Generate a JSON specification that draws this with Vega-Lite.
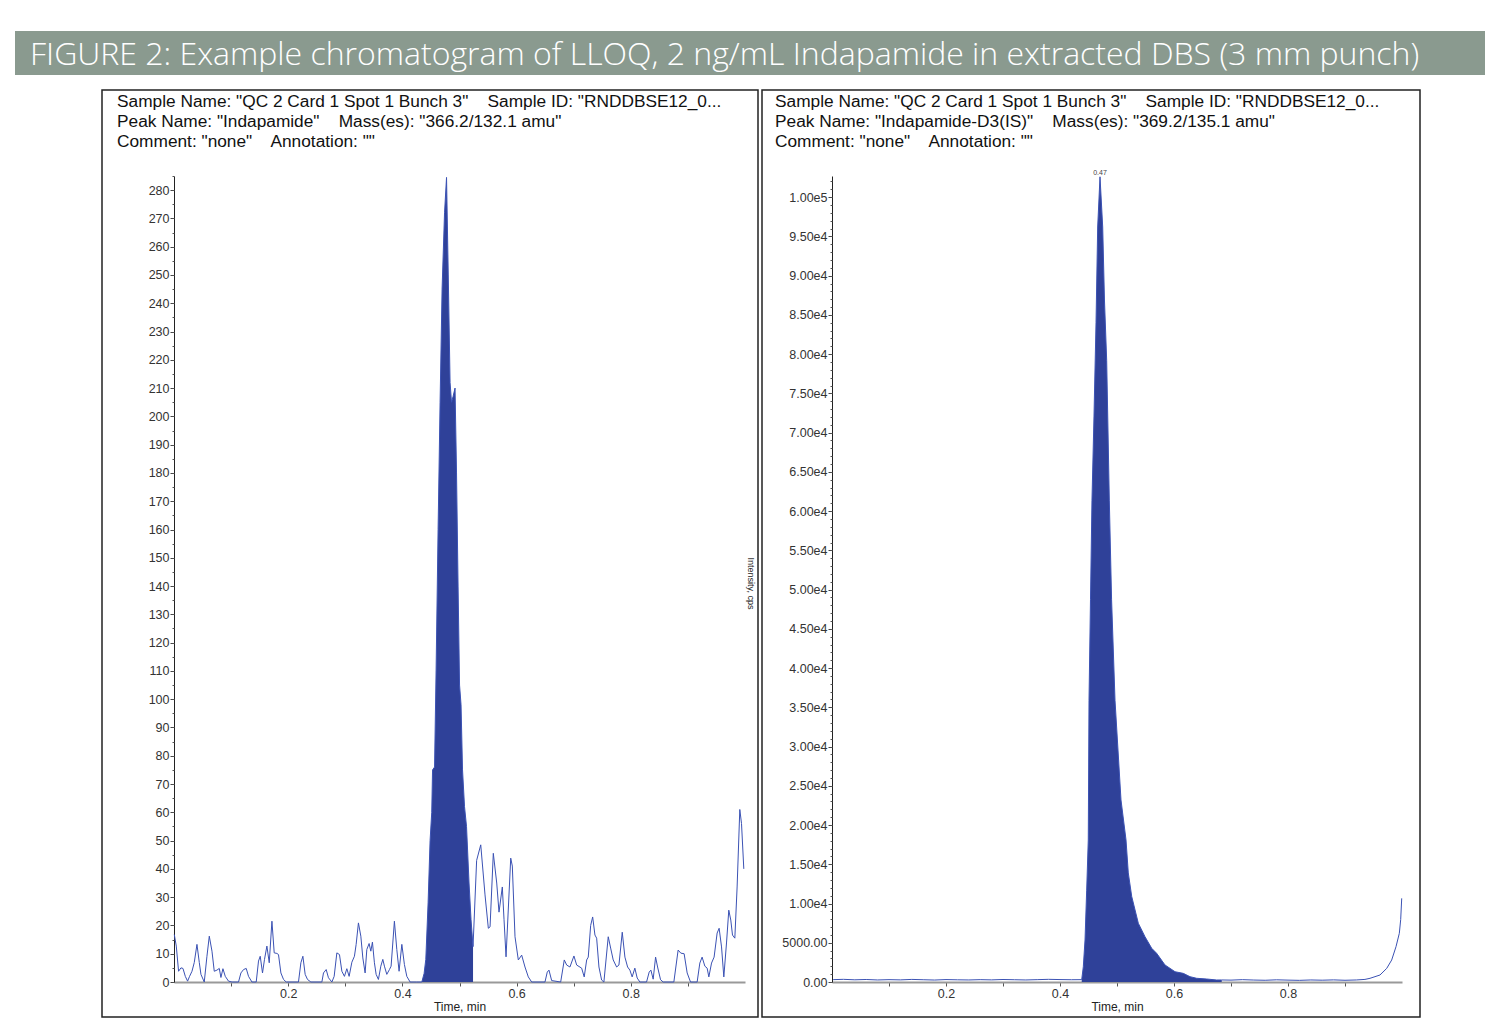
{
  "$schema": "https://vega.github.io/schema/vega-lite/v6.json",
  "background": "white",
  "padding": {"left": 15, "top": 31, "right": 0, "bottom": 0},
  "bounds": "flush",
  "spacing": 15,
  "config": {
    "view": {"stroke": null},
    "font": "Liberation Sans",
    "axis": {"grid": false, "labelFont": "Liberation Sans", "titleFont": "Liberation Sans"}
  },
  "datasets": {
    "indapamide": [
      {"t": 0.0005, "v": 16.8, "s": "n"}, {"t": 0.004, "v": 12.7, "s": "n"}, {"t": 0.008, "v": 3.8, "s": "n"}, {"t": 0.0122, "v": 5, "s": "n"},
      {"t": 0.0157, "v": 4.8, "s": "n"}, {"t": 0.0198, "v": 2, "s": "n"}, {"t": 0.0238, "v": 0.3, "s": "n"}, {"t": 0.0273, "v": 2, "s": "n"},
      {"t": 0.0315, "v": 3.8, "s": "n"}, {"t": 0.0355, "v": 6.9, "s": "n"}, {"t": 0.0402, "v": 13.3, "s": "n"}, {"t": 0.0443, "v": 6.9, "s": "n"},
      {"t": 0.0472, "v": 2.7, "s": "n"}, {"t": 0.053, "v": 0, "s": "n"}, {"t": 0.0577, "v": 9.1, "s": "n"}, {"t": 0.0618, "v": 16.2, "s": "n"},
      {"t": 0.0665, "v": 10.9, "s": "n"}, {"t": 0.0705, "v": 3.8, "s": "n"}, {"t": 0.0752, "v": 4.2, "s": "n"}, {"t": 0.0793, "v": 4.8, "s": "n"},
      {"t": 0.0822, "v": 1.6, "s": "n"}, {"t": 0.0857, "v": 4.7, "s": "n"}, {"t": 0.0898, "v": 2, "s": "n"}, {"t": 0.0955, "v": 0.3, "s": "n"},
      {"t": 0.1015, "v": 0, "s": "n"}, {"t": 0.113, "v": 0, "s": "n"}, {"t": 0.1172, "v": 3.2, "s": "n"}, {"t": 0.1218, "v": 4.4, "s": "n"},
      {"t": 0.1265, "v": 4.8, "s": "n"}, {"t": 0.1305, "v": 2, "s": "n"}, {"t": 0.1365, "v": 0, "s": "n"}, {"t": 0.144, "v": 0, "s": "n"},
      {"t": 0.148, "v": 7.4, "s": "n"}, {"t": 0.151, "v": 9.1, "s": "n"}, {"t": 0.155, "v": 3.2, "s": "n"}, {"t": 0.1585, "v": 8, "s": "n"},
      {"t": 0.1627, "v": 12.7, "s": "n"}, {"t": 0.1668, "v": 6.8, "s": "n"}, {"t": 0.1715, "v": 21.5, "s": "n"}, {"t": 0.1755, "v": 10.3, "s": "n"},
      {"t": 0.1802, "v": 10.1, "s": "n"}, {"t": 0.183, "v": 9.7, "s": "n"}, {"t": 0.1872, "v": 3.2, "s": "n"}, {"t": 0.1918, "v": 0.9, "s": "n"},
      {"t": 0.1965, "v": 0, "s": "n"}, {"t": 0.218, "v": 0, "s": "n"}, {"t": 0.2222, "v": 6.8, "s": "n"}, {"t": 0.2257, "v": 9.1, "s": "n"},
      {"t": 0.2297, "v": 2.7, "s": "n"}, {"t": 0.2338, "v": 0.9, "s": "n"}, {"t": 0.2397, "v": 0, "s": "n"}, {"t": 0.259, "v": 0, "s": "n"},
      {"t": 0.2618, "v": 3.2, "s": "n"}, {"t": 0.2665, "v": 4.4, "s": "n"}, {"t": 0.2705, "v": 1.5, "s": "n"}, {"t": 0.2765, "v": 0, "s": "n"},
      {"t": 0.2805, "v": 2, "s": "n"}, {"t": 0.2852, "v": 10.3, "s": "n"}, {"t": 0.2898, "v": 9.7, "s": "n"}, {"t": 0.294, "v": 3.8, "s": "n"},
      {"t": 0.2985, "v": 2, "s": "n"}, {"t": 0.3027, "v": 4.7, "s": "n"}, {"t": 0.3067, "v": 2, "s": "n"}, {"t": 0.3115, "v": 7, "s": "n"},
      {"t": 0.316, "v": 9.1, "s": "n"}, {"t": 0.319, "v": 13.3, "s": "n"}, {"t": 0.323, "v": 20.9, "s": "n"}, {"t": 0.3272, "v": 16.2, "s": "n"},
      {"t": 0.3307, "v": 8.5, "s": "n"}, {"t": 0.3347, "v": 3.2, "s": "n"}, {"t": 0.3377, "v": 11.5, "s": "n"}, {"t": 0.3417, "v": 13.6, "s": "n"},
      {"t": 0.3447, "v": 10.9, "s": "n"}, {"t": 0.3475, "v": 14.1, "s": "n"}, {"t": 0.351, "v": 6.8, "s": "n"}, {"t": 0.354, "v": 2.7, "s": "n"},
      {"t": 0.358, "v": 0.9, "s": "n"}, {"t": 0.3622, "v": 5.6, "s": "n"}, {"t": 0.3657, "v": 8, "s": "n"}, {"t": 0.3685, "v": 5.6, "s": "n"},
      {"t": 0.3727, "v": 2.7, "s": "n"}, {"t": 0.3773, "v": 4.4, "s": "n"}, {"t": 0.3802, "v": 5.6, "s": "n"}, {"t": 0.386, "v": 21.5, "s": "n"},
      {"t": 0.3902, "v": 11.5, "s": "n"}, {"t": 0.3942, "v": 3.8, "s": "n"}, {"t": 0.399, "v": 13.3, "s": "n"}, {"t": 0.4035, "v": 6.2, "s": "n"},
      {"t": 0.4077, "v": 2, "s": "n"}, {"t": 0.4135, "v": 0, "s": "n"}, {"t": 0.4252, "v": 0, "s": "n"},
      {"t": 0.434, "v": 0, "s": "p"}, {"t": 0.438, "v": 3, "s": "p"}, {"t": 0.441, "v": 8, "s": "p"}, {"t": 0.445, "v": 28, "s": "p"},
      {"t": 0.4485, "v": 50, "s": "p"}, {"t": 0.4514, "v": 60, "s": "p"}, {"t": 0.4528, "v": 75, "s": "p"}, {"t": 0.4563, "v": 76, "s": "p"},
      {"t": 0.459, "v": 110, "s": "p"}, {"t": 0.4625, "v": 160, "s": "p"}, {"t": 0.466, "v": 205, "s": "p"}, {"t": 0.4695, "v": 245, "s": "p"},
      {"t": 0.4738, "v": 272, "s": "p"}, {"t": 0.4773, "v": 284.5, "s": "p"}, {"t": 0.4803, "v": 250, "s": "p"}, {"t": 0.4835, "v": 212, "s": "p"},
      {"t": 0.486, "v": 205, "s": "p"}, {"t": 0.4887, "v": 207, "s": "p"}, {"t": 0.4922, "v": 210, "s": "p"}, {"t": 0.4948, "v": 180, "s": "p"},
      {"t": 0.4975, "v": 140, "s": "p"}, {"t": 0.5001, "v": 105, "s": "p"}, {"t": 0.5027, "v": 98, "s": "p"}, {"t": 0.5053, "v": 75, "s": "p"},
      {"t": 0.5088, "v": 62, "s": "p"}, {"t": 0.5123, "v": 55, "s": "p"}, {"t": 0.5167, "v": 35, "s": "p"}, {"t": 0.5202, "v": 22, "s": "p"},
      {"t": 0.5237, "v": 12.5, "s": "p"},
      {"t": 0.53, "v": 43, "s": "n"}, {"t": 0.5372, "v": 48.5, "s": "n"}, {"t": 0.5447, "v": 30.8, "s": "n"}, {"t": 0.5505, "v": 19, "s": "n"},
      {"t": 0.5535, "v": 19.5, "s": "n"}, {"t": 0.5592, "v": 45.5, "s": "n"}, {"t": 0.5652, "v": 35, "s": "n"}, {"t": 0.5692, "v": 24.7, "s": "n"},
      {"t": 0.575, "v": 33.6, "s": "n"}, {"t": 0.578, "v": 22, "s": "n"}, {"t": 0.5815, "v": 8.9, "s": "n"}, {"t": 0.5897, "v": 43.8, "s": "n"},
      {"t": 0.5925, "v": 41, "s": "n"}, {"t": 0.5972, "v": 16, "s": "n"}, {"t": 0.603, "v": 7.8, "s": "n"}, {"t": 0.6089, "v": 9.5, "s": "n"},
      {"t": 0.6147, "v": 5.3, "s": "n"}, {"t": 0.6205, "v": 1.8, "s": "n"}, {"t": 0.6264, "v": 0, "s": "n"}, {"t": 0.6497, "v": 0, "s": "n"},
      {"t": 0.6537, "v": 3.5, "s": "n"}, {"t": 0.6567, "v": 4.2, "s": "n"}, {"t": 0.6614, "v": 0.5, "s": "n"}, {"t": 0.6772, "v": 0, "s": "n"},
      {"t": 0.6835, "v": 7.8, "s": "n"}, {"t": 0.6877, "v": 6, "s": "n"}, {"t": 0.6934, "v": 5.3, "s": "n"}, {"t": 0.7004, "v": 9.2, "s": "n"},
      {"t": 0.7052, "v": 6, "s": "n"}, {"t": 0.7139, "v": 4.9, "s": "n"}, {"t": 0.7184, "v": 1.8, "s": "n"}, {"t": 0.7227, "v": 7.8, "s": "n"},
      {"t": 0.7255, "v": 8.8, "s": "n"}, {"t": 0.7297, "v": 20, "s": "n"}, {"t": 0.7332, "v": 23, "s": "n"}, {"t": 0.7372, "v": 16.6, "s": "n"},
      {"t": 0.7402, "v": 15.5, "s": "n"}, {"t": 0.7442, "v": 5.3, "s": "n"}, {"t": 0.7489, "v": 0.7, "s": "n"}, {"t": 0.7529, "v": 0, "s": "n"},
      {"t": 0.7605, "v": 16, "s": "n"}, {"t": 0.7647, "v": 12, "s": "n"}, {"t": 0.7692, "v": 7.8, "s": "n"}, {"t": 0.7752, "v": 5.3, "s": "n"},
      {"t": 0.7792, "v": 6, "s": "n"}, {"t": 0.785, "v": 17.6, "s": "n"}, {"t": 0.7897, "v": 8.8, "s": "n"}, {"t": 0.7944, "v": 5.3, "s": "n"},
      {"t": 0.7984, "v": 4.2, "s": "n"}, {"t": 0.8024, "v": 1.8, "s": "n"}, {"t": 0.8071, "v": 4.9, "s": "n"}, {"t": 0.8112, "v": 1.4, "s": "n"},
      {"t": 0.8159, "v": 0, "s": "n"}, {"t": 0.8276, "v": 0, "s": "n"}, {"t": 0.8322, "v": 3.5, "s": "n"}, {"t": 0.8352, "v": 4.2, "s": "n"},
      {"t": 0.8392, "v": 1, "s": "n"}, {"t": 0.8434, "v": 8.8, "s": "n"}, {"t": 0.8469, "v": 5.3, "s": "n"}, {"t": 0.8521, "v": 0.8, "s": "n"},
      {"t": 0.8567, "v": 0, "s": "n"}, {"t": 0.8754, "v": 0, "s": "n"}, {"t": 0.8829, "v": 11.3, "s": "n"}, {"t": 0.8876, "v": 10.2, "s": "n"},
      {"t": 0.8934, "v": 10, "s": "n"}, {"t": 0.8987, "v": 3.2, "s": "n"}, {"t": 0.9046, "v": 0, "s": "n"}, {"t": 0.9162, "v": 0, "s": "n"},
      {"t": 0.9209, "v": 6.7, "s": "n"}, {"t": 0.9249, "v": 8.8, "s": "n"}, {"t": 0.9297, "v": 5.6, "s": "n"}, {"t": 0.9337, "v": 4.9, "s": "n"},
      {"t": 0.9367, "v": 1.8, "s": "n"}, {"t": 0.9414, "v": 6.7, "s": "n"}, {"t": 0.9459, "v": 8.8, "s": "n"}, {"t": 0.9512, "v": 17.3, "s": "n"},
      {"t": 0.9547, "v": 19, "s": "n"}, {"t": 0.9589, "v": 12.4, "s": "n"}, {"t": 0.9629, "v": 1.8, "s": "n"}, {"t": 0.9676, "v": 13.8, "s": "n"},
      {"t": 0.9716, "v": 25.4, "s": "n"}, {"t": 0.9751, "v": 21.9, "s": "n"}, {"t": 0.9781, "v": 16.6, "s": "n"}, {"t": 0.9822, "v": 15.5, "s": "n"},
      {"t": 0.9862, "v": 33.6, "s": "n"}, {"t": 0.9909, "v": 61, "s": "n"}, {"t": 0.9939, "v": 56, "s": "n"}, {"t": 0.9979, "v": 40, "s": "n"}
    ],
    "internalStd": [
      {"t": 0.002, "v": 300, "s": "n"}, {"t": 0.02, "v": 340, "s": "n"}, {"t": 0.04, "v": 280, "s": "n"}, {"t": 0.06, "v": 320, "s": "n"},
      {"t": 0.08, "v": 260, "s": "n"}, {"t": 0.1, "v": 300, "s": "n"}, {"t": 0.12, "v": 270, "s": "n"}, {"t": 0.14, "v": 330, "s": "n"},
      {"t": 0.16, "v": 290, "s": "n"}, {"t": 0.18, "v": 250, "s": "n"}, {"t": 0.2, "v": 310, "s": "n"}, {"t": 0.22, "v": 280, "s": "n"},
      {"t": 0.24, "v": 260, "s": "n"}, {"t": 0.26, "v": 300, "s": "n"}, {"t": 0.28, "v": 270, "s": "n"}, {"t": 0.3, "v": 320, "s": "n"},
      {"t": 0.32, "v": 290, "s": "n"}, {"t": 0.34, "v": 260, "s": "n"}, {"t": 0.36, "v": 300, "s": "n"}, {"t": 0.38, "v": 340, "s": "n"},
      {"t": 0.4, "v": 310, "s": "n"}, {"t": 0.42, "v": 290, "s": "n"},
      {"t": 0.4381, "v": 300, "s": "p"}, {"t": 0.4409, "v": 1950, "s": "p"}, {"t": 0.4439, "v": 5350, "s": "p"}, {"t": 0.4468, "v": 11700, "s": "p"},
      {"t": 0.4496, "v": 18100, "s": "p"}, {"t": 0.4509, "v": 35900, "s": "p"}, {"t": 0.4535, "v": 48700, "s": "p"}, {"t": 0.4561, "v": 61400, "s": "p"},
      {"t": 0.4596, "v": 72000, "s": "p"}, {"t": 0.4632, "v": 84000, "s": "p"}, {"t": 0.4661, "v": 96200, "s": "p"}, {"t": 0.4702, "v": 102600, "s": "p"},
      {"t": 0.4749, "v": 96200, "s": "p"}, {"t": 0.478, "v": 86900, "s": "p"}, {"t": 0.4819, "v": 79200, "s": "p"}, {"t": 0.4865, "v": 61400, "s": "p"},
      {"t": 0.4905, "v": 48700, "s": "p"}, {"t": 0.4965, "v": 35900, "s": "p"}, {"t": 0.507, "v": 23200, "s": "p"}, {"t": 0.5158, "v": 18100, "s": "p"},
      {"t": 0.5198, "v": 13900, "s": "p"}, {"t": 0.5258, "v": 10900, "s": "p"}, {"t": 0.5374, "v": 7480, "s": "p"}, {"t": 0.5491, "v": 5770, "s": "p"},
      {"t": 0.5609, "v": 4290, "s": "p"}, {"t": 0.5696, "v": 3650, "s": "p"}, {"t": 0.5842, "v": 2170, "s": "p"}, {"t": 0.6018, "v": 1310, "s": "p"},
      {"t": 0.6163, "v": 1100, "s": "p"}, {"t": 0.6281, "v": 675, "s": "p"}, {"t": 0.6398, "v": 470, "s": "p"}, {"t": 0.6574, "v": 380, "s": "p"},
      {"t": 0.6749, "v": 255, "s": "p"}, {"t": 0.6837, "v": 260, "s": "p"},
      {"t": 0.7, "v": 240, "s": "n"}, {"t": 0.72, "v": 300, "s": "n"}, {"t": 0.74, "v": 250, "s": "n"}, {"t": 0.76, "v": 220, "s": "n"},
      {"t": 0.78, "v": 280, "s": "n"}, {"t": 0.8, "v": 240, "s": "n"}, {"t": 0.82, "v": 210, "s": "n"}, {"t": 0.84, "v": 260, "s": "n"},
      {"t": 0.86, "v": 230, "s": "n"}, {"t": 0.88, "v": 270, "s": "n"}, {"t": 0.9, "v": 220, "s": "n"}, {"t": 0.92, "v": 260, "s": "n"},
      {"t": 0.935, "v": 330, "s": "n"}, {"t": 0.9439, "v": 470, "s": "n"}, {"t": 0.9614, "v": 890, "s": "n"}, {"t": 0.9732, "v": 1740, "s": "n"},
      {"t": 0.9819, "v": 2800, "s": "n"}, {"t": 0.9895, "v": 4500, "s": "n"}, {"t": 0.9953, "v": 6200, "s": "n"}, {"t": 0.9977, "v": 7960, "s": "n"},
      {"t": 0.9995, "v": 10660, "s": "n"}
    ],
    "apex": [{"t": 0.4702, "v": 102600, "label": "0.47"}]
  },
  "vconcat": [
    {
      "width": 1470,
      "height": 44,
      "view": {"fill": "#8a9a8f", "stroke": null},
      "title": {
        "text": "FIGURE 2: Example chromatogram of LLOQ, 2 ng/mL Indapamide in extracted DBS (3 mm punch)",
        "anchor": "start", "frame": "group", "orient": "top", "baseline": "top",
        "offset": -41, "dx": 15,
        "font": "Open Sans", "fontWeight": 300, "fontSize": 32, "color": "white"
      },
      "data": {"values": []},
      "mark": {"type": "rect", "opacity": 0}
    },
    {
      "bounds": "flush",
      "spacing": 4,
      "hconcat": [
        {
          "width": 83,
          "height": 927,
          "data": {"values": []},
          "mark": {"type": "rect", "opacity": 0}
        },
        {
          "width": 656,
          "height": 927,
          "view": {"stroke": "#222", "strokeWidth": 1.5, "fill": "white"},
          "title": {
            "text": [
              "Sample Name: \"QC 2 Card 1 Spot 1 Bunch 3\"\u00a0\u00a0\u00a0 Sample ID: \"RNDDBSE12_0...",
              "Peak Name: \"Indapamide\"\u00a0\u00a0\u00a0 Mass(es): \"366.2/132.1 amu\"",
              "Comment: \"none\"\u00a0\u00a0\u00a0 Annotation: \"\""
            ],
            "anchor": "start", "frame": "group", "orient": "top", "baseline": "top",
            "offset": -60, "dx": 15, "lineHeight": 20,
            "font": "Liberation Sans", "fontWeight": "normal", "fontSize": 17.3, "color": "#111"
          },
          "data": {"name": "indapamide"},
          "encoding": {
            "x": {
              "field": "t", "type": "quantitative",
              "scale": {"domain": [0, 1], "range": [72, 643], "nice": false, "zero": false},
              "axis": {
                "orient": "bottom", "offset": -35,
                "values": [0.1, 0.2, 0.3, 0.4, 0.5, 0.6, 0.7, 0.8, 0.9],
                "labelExpr": "round(datum.value * 10) % 2 == 0 ? format(datum.value, '.1f') : ''",
                "title": "Time, min", "titleFontSize": 12, "titleFontWeight": "normal", "titleColor": "#222", "titlePadding": 2,
                "labelFontSize": 12.5, "labelColor": "#333", "labelPadding": 1, "labelFlush": false, "labelOverlap": false,
                "tickSize": 4, "tickColor": "#555", "domainColor": "#999", "domainWidth": 2
              }
            }
          },
          "layer": [
            {
              "transform": [{"filter": "datum.s == 'p'"}],
              "mark": {"type": "area", "color": "#2f4199", "opacity": 1},
              "encoding": {
                "y": {
                  "field": "v", "type": "quantitative",
                  "scale": {"domain": [0, 285], "range": [892, 86], "nice": false, "zero": false},
                  "axis": {
                    "orient": "left", "offset": -72,
                    "values": [0, 10, 20, 30, 40, 50, 60, 70, 80, 90, 100, 110, 120, 130, 140, 150, 160, 170, 180, 190, 200, 210, 220, 230, 240, 250, 260, 270, 280],
                    "title": null, "labelFontSize": 12.5, "labelColor": "#333", "labelPadding": 1, "labelOverlap": false, "labelFlush": false,
                    "tickSize": 4, "tickColor": "#444", "domainColor": "#222", "domainWidth": 1
                  }
                }
              }
            },
            {
              "mark": {"type": "line", "color": "#3b52b4", "strokeWidth": 1},
              "encoding": {
                "y": {
                  "field": "v", "type": "quantitative",
                  "scale": {"domain": [0, 285], "range": [892, 86], "nice": false, "zero": false},
                  "axis": {"orient": "left", "offset": -72, "tickCount": 57, "labels": false, "domain": false, "tickSize": 2, "tickColor": "#555", "title": null}
                }
              }
            }
          ],
          "resolve": {"axis": {"y": "independent"}}
        },
        {
          "width": 658,
          "height": 927,
          "view": {"stroke": "#222", "strokeWidth": 1.5, "fill": "white"},
          "title": {
            "text": [
              "Sample Name: \"QC 2 Card 1 Spot 1 Bunch 3\"\u00a0\u00a0\u00a0 Sample ID: \"RNDDBSE12_0...",
              "Peak Name: \"Indapamide-D3(IS)\"\u00a0\u00a0\u00a0 Mass(es): \"369.2/135.1 amu\"",
              "Comment: \"none\"\u00a0\u00a0\u00a0 Annotation: \"\""
            ],
            "anchor": "start", "frame": "group", "orient": "top", "baseline": "top",
            "offset": -60, "dx": 13, "lineHeight": 20,
            "font": "Liberation Sans", "fontWeight": "normal", "fontSize": 17.3, "color": "#111"
          },
          "encoding": {
            "x": {
              "field": "t", "type": "quantitative",
              "scale": {"domain": [0, 1], "range": [70, 640], "nice": false, "zero": false},
              "axis": {
                "orient": "bottom", "offset": -35,
                "values": [0.1, 0.2, 0.3, 0.4, 0.5, 0.6, 0.7, 0.8, 0.9],
                "labelExpr": "round(datum.value * 10) % 2 == 0 ? format(datum.value, '.1f') : ''",
                "title": "Time, min", "titleFontSize": 12, "titleFontWeight": "normal", "titleColor": "#222", "titlePadding": 2,
                "labelFontSize": 12.5, "labelColor": "#333", "labelPadding": 1, "labelFlush": false, "labelOverlap": false,
                "tickSize": 4, "tickColor": "#555", "domainColor": "#999", "domainWidth": 2
              }
            }
          },
          "layer": [
            {
              "data": {"name": "internalStd"},
              "transform": [{"filter": "datum.s == 'p'"}],
              "mark": {"type": "area", "color": "#2f4199", "opacity": 1},
              "encoding": {
                "y": {
                  "field": "v", "type": "quantitative",
                  "scale": {"domain": [0, 102700], "range": [892, 86], "nice": false, "zero": false},
                  "axis": {
                    "orient": "left", "offset": -70,
                    "values": [0, 5000, 10000, 15000, 20000, 25000, 30000, 35000, 40000, 45000, 50000, 55000, 60000, 65000, 70000, 75000, 80000, 85000, 90000, 95000, 100000],
                    "labelExpr": "datum.value < 10000 ? format(datum.value, '.2f') : replace(format(datum.value, '.2e'), 'e+', 'e')",
                    "title": "Intensity, cps", "titleAngle": 90, "titleFontSize": 9, "titleFontWeight": "normal", "titleColor": "#222",
                    "titleX": -82, "titleY": 493, "titleAlign": "center", "titleBaseline": "middle",
                    "labelFontSize": 12.5, "labelColor": "#333", "labelPadding": 1, "labelOverlap": false, "labelFlush": false,
                    "tickSize": 4, "tickColor": "#444", "domainColor": "#222", "domainWidth": 1
                  }
                }
              }
            },
            {
              "data": {"name": "internalStd"},
              "mark": {"type": "line", "color": "#3b52b4", "strokeWidth": 1},
              "encoding": {
                "y": {
                  "field": "v", "type": "quantitative",
                  "scale": {"domain": [0, 102700], "range": [892, 86], "nice": false, "zero": false},
                  "axis": {"orient": "left", "offset": -70, "tickCount": 103, "labels": false, "domain": false, "tickSize": 2, "tickColor": "#555", "title": null}
                }
              }
            },
            {
              "data": {"name": "apex"},
              "mark": {"type": "text", "fontSize": 7, "color": "#444", "baseline": "bottom", "dy": -1, "font": "Liberation Sans"},
              "encoding": {
                "y": {"field": "v", "type": "quantitative", "scale": {"domain": [0, 102700], "range": [892, 86], "nice": false, "zero": false}, "axis": null},
                "text": {"field": "label"}
              }
            }
          ],
          "resolve": {"axis": {"y": "independent"}}
        }
      ]
    }
  ]
}
